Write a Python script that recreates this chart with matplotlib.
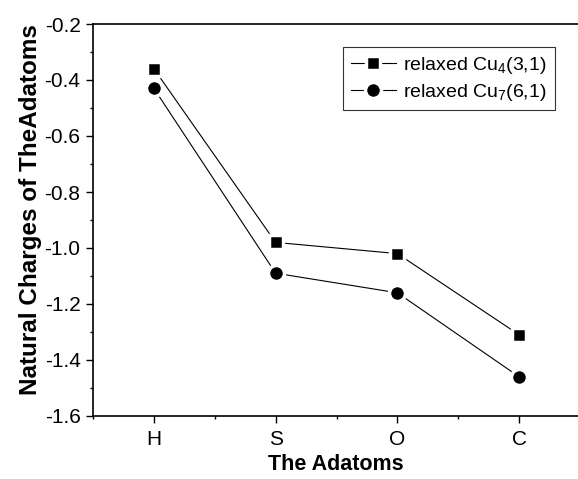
import matplotlib
matplotlib.use("Agg")
import matplotlib.pyplot as plt
from matplotlib.ticker import MultipleLocator

plt.rcParams['font.family'] = ['Liberation Sans', 'DejaVu Sans']
plt.rcParams['mathtext.fontset'] = 'custom'
plt.rcParams['mathtext.rm'] = 'Liberation Sans'

categories = ['H', 'S', 'O', 'C']
cu4 = [-0.36, -0.98, -1.02, -1.31]
cu7 = [-0.43, -1.09, -1.16, -1.46]
labels = [r'relaxed Cu$_{\mathregular{4}}$(3,1)', r'relaxed Cu$_{\mathregular{7}}$(6,1)']

fig = plt.figure(figsize=(5.78, 4.79), dpi=100)
W, H = 578, 479
left, right, top, bottom = 93, 580, 24, 416
ax = fig.add_axes([left / W, (H - bottom) / H, (right - left) / W, (bottom - top) / H])

x = list(range(1, len(categories) + 1))
ax.plot(x, cu4, color='black', lw=0.8, marker='s', ms=10.5, mfc='black',
        mec='white', mew=2.5, label=labels[0])
ax.plot(x, cu7, color='black', lw=0.8, marker='o', ms=11.5, mfc='black',
        mec='white', mew=2.5, label=labels[1])

ax.set_xlim(0.5, 4.5)
ax.set_ylim(-1.6, -0.2)
ax.set_xticks(x)
ax.set_xticklabels(categories)
ax.xaxis.set_minor_locator(MultipleLocator(0.5))
ax.yaxis.set_major_locator(MultipleLocator(0.2))
ax.yaxis.set_minor_locator(MultipleLocator(0.1))
ax.tick_params(which='major', direction='out', length=5, width=1)
ax.tick_params(which='minor', direction='out', length=2.5, width=1)
ax.tick_params(axis='x', which='major', pad=5, labelsize=15)
ax.tick_params(axis='y', which='major', pad=4, labelsize=15)
for s in ax.spines.values():
    s.set_linewidth(1.2)
ax.set_yticks(ax.get_yticks())
ax.set_yticklabels([f'{v:.1f}' for v in ax.get_yticks()])
ax.set_ylim(-1.6, -0.2)

ax.set_xlabel('The Adatoms', fontsize=15.5, fontweight='bold')
ax.xaxis.label.set_va('bottom')
ax.xaxis.set_label_coords(((267 + 405) / 2 - left) / (right - left), -(475 - bottom) / (bottom - top))

ax.set_ylabel('Natural Charges of TheAdatoms', fontsize=17.5, fontweight='bold')
ax.yaxis.set_label_coords((42 - left) / (right - left), (bottom - 210) / (bottom - top))

leg = ax.legend(loc='upper left', bbox_to_anchor=((343 - left) / (right - left), 1 - (47 - top) / (bottom - top)),
                fontsize=14, frameon=True, fancybox=False, edgecolor='black',
                handlelength=2.3, handletextpad=0.4, borderpad=0.4, labelspacing=0.3,
                borderaxespad=0)
leg.get_frame().set_linewidth(0.8)

fig.savefig('out.png', dpi=100)
